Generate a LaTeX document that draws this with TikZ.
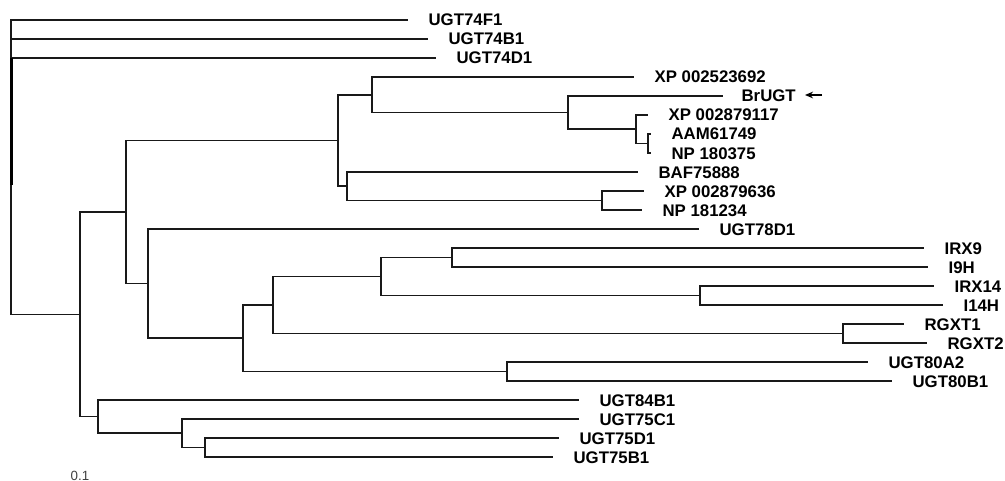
\documentclass[tikz,border=0pt]{standalone}
\usepackage{fontspec}
\setmainfont{Liberation Sans}
\usetikzlibrary{arrows.meta}
\begin{document}
\begin{tikzpicture}[x=0.75pt,y=-0.75pt,
  br/.style={line width=1.15pt, draw=black!90, line cap=rect},
  leaf/.style={anchor=west, inner xsep=16pt, inner ysep=0pt, text=black,
    font=\fontsize{12.6}{14}\selectfont\bfseries, text height=9pt, text depth=0pt},
  ]
\useasboundingbox (0,0) rectangle (1005,481);
% leaves (west anchor = end of branch)
\node[leaf] (l1)  at (407,20)  {UGT74F1};
\node[leaf] (l2)  at (427,39)  {UGT74B1};
\node[leaf] (l3)  at (435,58)  {UGT74D1};
\node[leaf] (l4)  at (633,77)  {XP 002523692};
\node[leaf, inner xsep=14.5pt] (l5)  at (722,96)  {BrUGT};
\node[leaf] (l6)  at (647,115) {XP 002879117};
\node[leaf] (l7)  at (650,134) {AAM61749};
\node[leaf] (l8)  at (650,153) {NP 180375};
\node[leaf] (l9)  at (637,172) {BAF75888};
\node[leaf] (l10) at (643,191) {XP 002879636};
\node[leaf] (l11) at (641,210) {NP 181234};
\node[leaf] (l12) at (698,229) {UGT78D1};
\node[leaf] (l13) at (923,248) {IRX9};
\node[leaf] (l14) at (927,267) {I9H};
\node[leaf] (l15) at (933,286) {IRX14};
\node[leaf] (l16) at (942,305) {I14H};
\node[leaf] (l17) at (903,324) {RGXT1};
\node[leaf] (l18) at (926,343) {RGXT2};
\node[leaf] (l19) at (867,362) {UGT80A2};
\node[leaf] (l20) at (891,381) {UGT80B1};
\node[leaf] (l21) at (578,400) {UGT84B1};
\node[leaf] (l22) at (578,419) {UGT75C1};
\node[leaf] (l23) at (558,438) {UGT75D1};
\node[leaf] (l24) at (552,457) {UGT75B1};
% internal nodes
\coordinate (root) at (11,166);
\coordinate (nA) at (80,314.3);
\coordinate (nB) at (126,212);
\coordinate (nC) at (338,140.5);
\coordinate (nD) at (372,94.8);
\coordinate (nF) at (568,112.6);
\coordinate (nH) at (636,129.25);
\coordinate (nI) at (648,143.5);
\coordinate (nE) at (347,186.25);
\coordinate (nJ) at (602,200.5);
\coordinate (nG) at (148,283.6);
\coordinate (nK) at (243,338.25);
\coordinate (nL) at (273,305);
\coordinate (nN) at (381,276.5);
\coordinate (nP) at (452,257.5);
\coordinate (nQ) at (700,295.5);
\coordinate (nO) at (843,333.5);
\coordinate (nM) at (507,371.5);
\coordinate (nR) at (98,416.6);
\coordinate (nS) at (182,433.25);
\coordinate (nT) at (205,447.5);
% branches
\draw[br] (root) |- (l1.west);
\draw[br] (root) |- (l2.west);
\draw[br] (root) |- (l3.west);
\draw[br] (root) |- (nA);
\draw[br] (nA) |- (nB);
\draw[br] (nA) |- (nR);
\draw[br] (nB) |- (nC);
\draw[br] (nB) |- (nG);
\draw[br] (nC) |- (nD);
\draw[br] (nC) |- (nE);
\draw[br] (nD) |- (l4.west);
\draw[br] (nD) |- (nF);
\draw[br] (nF) |- (l5.west);
\draw[br] (nF) |- (nH);
\draw[br] (nH) |- (l6.west);
\draw[br] (nH) |- (nI);
\draw[br] (nI) |- (l7.west);
\draw[br] (nI) |- (l8.west);
\draw[br] (nE) |- (l9.west);
\draw[br] (nE) |- (nJ);
\draw[br] (nJ) |- (l10.west);
\draw[br] (nJ) |- (l11.west);
\draw[br] (nG) |- (l12.west);
\draw[br] (nG) |- (nK);
\draw[br] (nK) |- (nL);
\draw[br] (nK) |- (nM);
\draw[br] (nL) |- (nN);
\draw[br] (nL) |- (nO);
\draw[br] (nN) |- (nP);
\draw[br] (nN) |- (nQ);
\draw[br] (nP) |- (l13.west);
\draw[br] (nP) |- (l14.west);
\draw[br] (nQ) |- (l15.west);
\draw[br] (nQ) |- (l16.west);
\draw[br] (nO) |- (l17.west);
\draw[br] (nO) |- (l18.west);
\draw[br] (nM) |- (l19.west);
\draw[br] (nM) |- (l20.west);
\draw[br] (nR) |- (l21.west);
\draw[br] (nR) |- (nS);
\draw[br] (nS) |- (l22.west);
\draw[br] (nS) |- (nT);
\draw[br] (nT) |- (l23.west);
\draw[br] (nT) |- (l24.west);
% thick part of root line
\coordinate (rt1) at (11.8,58);
\coordinate (rt2) at (11.8,185);
\draw[line width=2.3pt, black] (rt1) -- (rt2);
% arrow pointing at BrUGT
\coordinate (arT) at (822,95);
\coordinate (arH) at (805,95);
\draw[line width=1.1pt, -{Stealth[length=6pt,width=5pt]}] (arT) -- (arH);
% scale label
\node[anchor=base, inner sep=0pt, text=black!75, font=\fontsize{10}{11}\selectfont] (scale) at (80,480) {0.1};
\end{tikzpicture}
\end{document}
